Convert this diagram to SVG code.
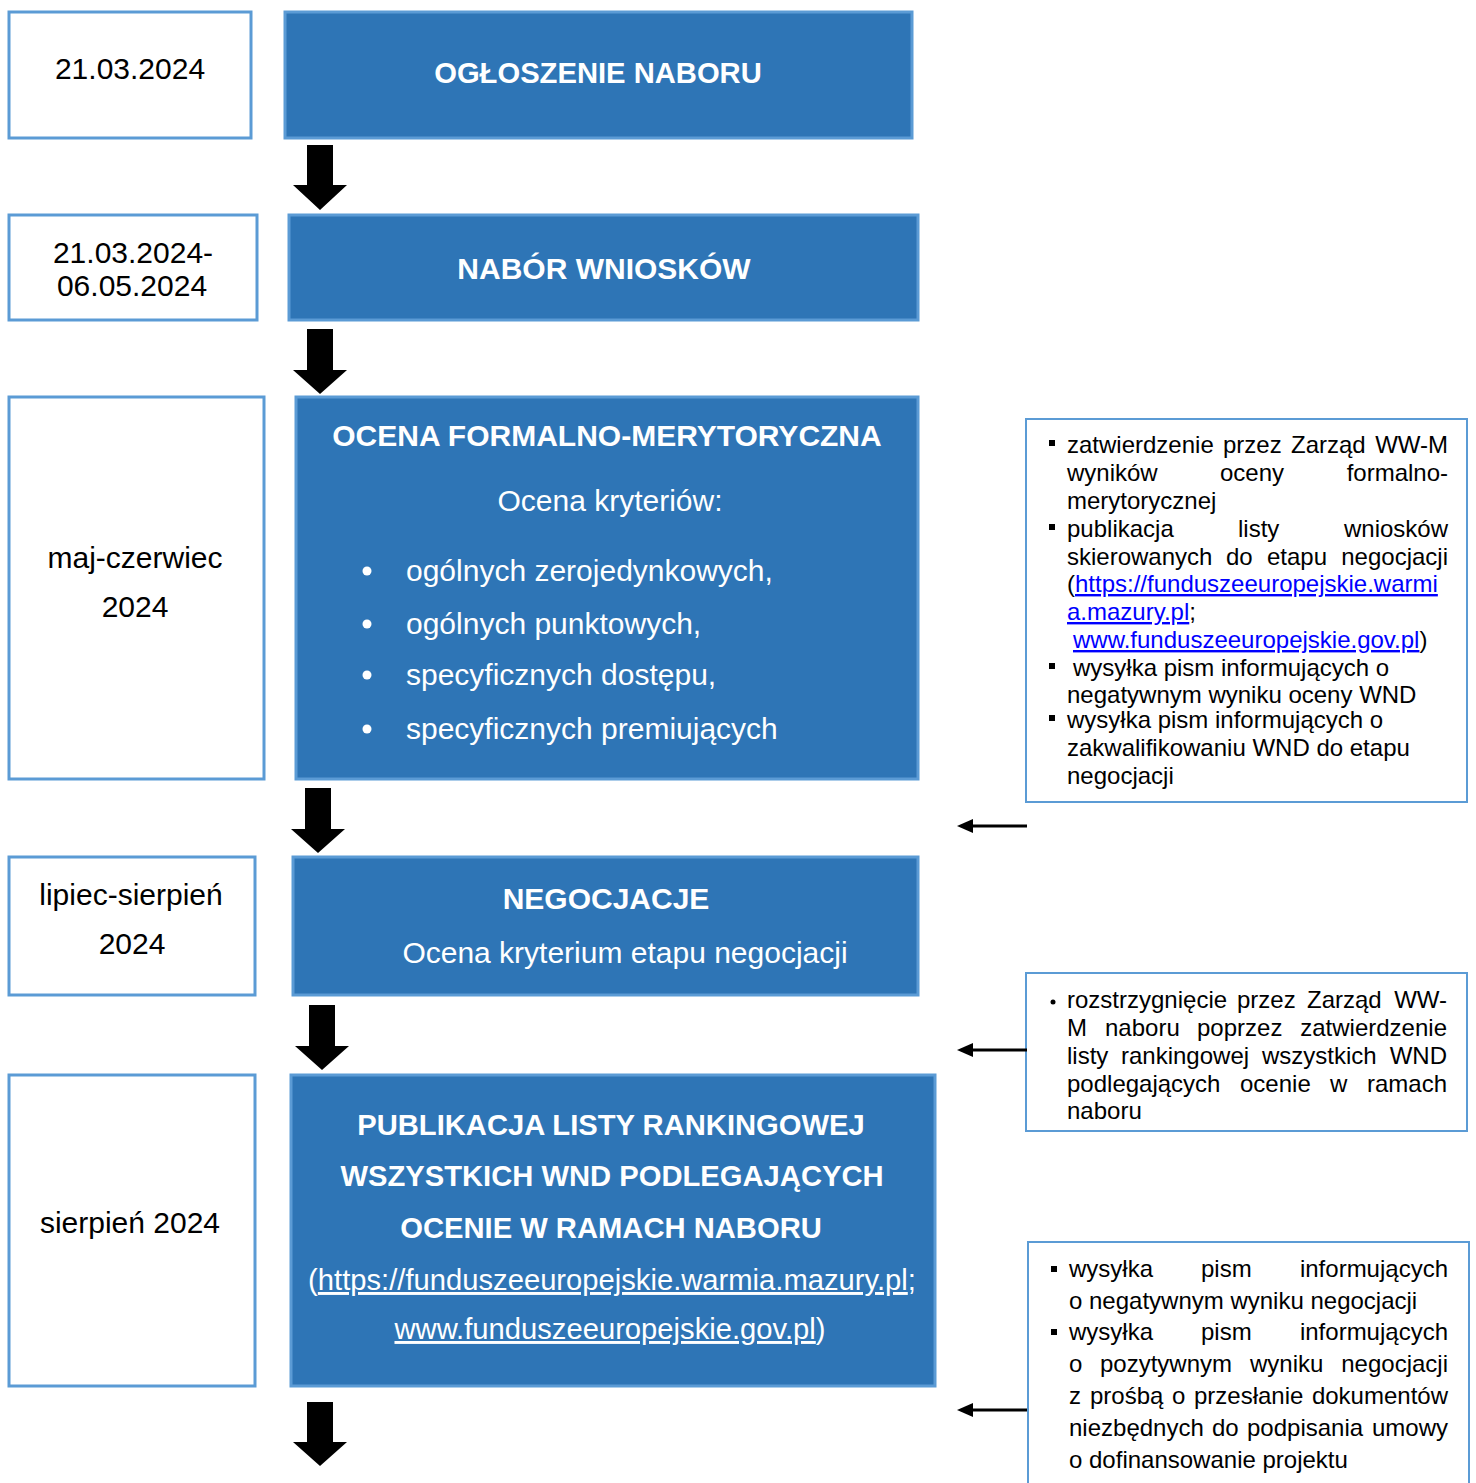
<svg xmlns="http://www.w3.org/2000/svg" width="1476" height="1483" viewBox="0 0 1476 1483">
<style>
.date{fill:#fff;stroke:#5B9BD5;stroke-width:3}
.main{fill:#2E75B6;stroke:#5B9BD5;stroke-width:3}
.note{fill:#fff;stroke:#5B9BD5;stroke-width:2}
.dt{font-family:"Liberation Sans",Arial,sans-serif;font-size:30px;fill:#000;text-anchor:middle}
.tb{font-family:"Liberation Sans",Arial,sans-serif;font-size:30px;font-weight:bold;fill:#fff;text-anchor:middle}
.tn{font-family:"Liberation Sans",Arial,sans-serif;font-size:30px;fill:#fff}
.s5{font-size:29.2px}
.tc{text-anchor:middle}
.nt{font-family:"Liberation Sans",Arial,sans-serif;font-size:24px;fill:#000}
.e{text-anchor:end}
.lk{fill:#0000FF;text-decoration:underline}
.ul{text-decoration:underline}
.arr{fill:#000}
.ln{stroke:#000;stroke-width:3}
</style>

<g id="date1"><rect class="date" x="9" y="12" width="242" height="126"/><text class="dt" x="130" y="79">21.03.2024</text></g>
<g id="step1"><rect class="main" x="285" y="12" width="627" height="126"/><text class="tb s5" x="598" y="83">OGŁOSZENIE NABORU</text></g>

<g id="date2"><rect class="date" x="9" y="215" width="248" height="105"/><text class="dt" x="133" y="263">21.03.2024-</text><text class="dt" x="132" y="296">06.05.2024</text></g>
<g id="step2"><rect class="main" x="289" y="215" width="629" height="105"/><text class="tb" x="604" y="279">NABÓR WNIOSKÓW</text></g>

<g id="date3"><rect class="date" x="9" y="397" width="255" height="382"/><text class="dt" x="135" y="568">maj-czerwiec</text><text class="dt" x="135" y="617">2024</text></g>
<g id="step3"><rect class="main" x="296" y="397" width="622" height="382"/>
<text class="tb" x="607" y="446">OCENA FORMALNO-MERYTORYCZNA</text>
<text class="tn tc" x="610" y="511">Ocena kryteriów:</text>
<circle cx="367" cy="571" r="4.5" fill="#fff"/><text class="tn" x="406" y="581">ogólnych zerojedynkowych,</text>
<circle cx="367" cy="624" r="4.5" fill="#fff"/><text class="tn" x="406" y="634">ogólnych punktowych,</text>
<circle cx="367" cy="675" r="4.5" fill="#fff"/><text class="tn" x="406" y="685">specyficznych dostępu,</text>
<circle cx="367" cy="729" r="4.5" fill="#fff"/><text class="tn" x="406" y="739">specyficznych premiujących</text>
</g>

<g id="date4"><rect class="date" x="9" y="857" width="246" height="138"/><text class="dt" x="131" y="905">lipiec-sierpień</text><text class="dt" x="132" y="954">2024</text></g>
<g id="step4"><rect class="main" x="293" y="857" width="625" height="138"/><text class="tb" x="606" y="909">NEGOCJACJE</text><text class="tn tc" x="625" y="963">Ocena kryterium etapu negocjacji</text></g>

<g id="date5"><rect class="date" x="9" y="1075" width="246" height="311"/><text class="dt" x="130" y="1233">sierpień 2024</text></g>
<g id="step5"><rect class="main" x="291" y="1075" width="644" height="311"/>
<text class="tb s5" x="611" y="1135">PUBLIKACJA LISTY RANKINGOWEJ</text>
<text class="tb s5" x="612" y="1186">WSZYSTKICH WND PODLEGAJĄCYCH</text>
<text class="tb s5" x="611" y="1238">OCENIE W RAMACH NABORU</text>
<text class="tn tc s5" x="612" y="1290">(<tspan class="ul">https://funduszeeuropejskie.warmia.mazury.pl</tspan>;</text>
<text class="tn tc s5" x="610" y="1339"><tspan class="ul">www.funduszeeuropejskie.gov.pl</tspan>)</text>
</g>

<g id="note1"><rect class="note" x="1026" y="419" width="441" height="383"/>
<rect x="1049" y="440" width="6" height="6" fill="#000"/>
<text class="nt" y="453"><tspan x="1067">zatwierdzenie</tspan><tspan x="1223">przez</tspan><tspan x="1291">Zarząd</tspan></text><text class="nt e" x="1448" y="453">WW-M</text>
<text class="nt" y="481"><tspan x="1067">wyników</tspan><tspan x="1220">oceny</tspan></text><text class="nt e" x="1448" y="481">formalno-</text>
<text class="nt" x="1067" y="509">merytorycznej</text>
<rect x="1049" y="524" width="6" height="6" fill="#000"/>
<text class="nt" y="537"><tspan x="1067">publikacja</tspan><tspan x="1238">listy</tspan></text><text class="nt e" x="1448" y="537">wniosków</text>
<text class="nt" y="565"><tspan x="1067">skierowanych</tspan><tspan x="1226">do</tspan><tspan x="1267">etapu</tspan></text><text class="nt e" x="1448" y="565">negocjacji</text>
<text class="nt" x="1067" y="592">(<tspan class="lk">https://funduszeeuropejskie.warmi</tspan></text>
<text class="nt" x="1067" y="620"><tspan class="lk">a.mazury.pl</tspan><tspan class="ul">;</tspan></text>
<text class="nt" x="1073" y="648"><tspan class="lk">www.funduszeeuropejskie.gov.pl</tspan>)</text>
<rect x="1049" y="663" width="6" height="6" fill="#000"/>
<text class="nt" x="1073" y="676">wysyłka pism informujących o</text>
<text class="nt" x="1067" y="703">negatywnym wyniku oceny WND</text>
<rect x="1049" y="715" width="6" height="6" fill="#000"/>
<text class="nt" x="1067" y="728">wysyłka pism informujących o</text>
<text class="nt" x="1067" y="756">zakwalifikowaniu WND do etapu</text>
<text class="nt" x="1067" y="784">negocjacji</text>
</g>

<g id="note2"><rect class="note" x="1026" y="973" width="441" height="158"/>
<circle cx="1053" cy="1002" r="2.5" fill="#000"/>
<text class="nt" y="1008"><tspan x="1067">rozstrzygnięcie</tspan><tspan x="1237">przez</tspan><tspan x="1307">Zarząd</tspan></text><text class="nt e" x="1447" y="1008">WW-</text>
<text class="nt" y="1036"><tspan x="1067">M</tspan><tspan x="1105">naboru</tspan><tspan x="1197">poprzez</tspan></text><text class="nt e" x="1447" y="1036">zatwierdzenie</text>
<text class="nt" y="1064"><tspan x="1067">listy</tspan><tspan x="1121">rankingowej</tspan><tspan x="1262">wszystkich</tspan></text><text class="nt e" x="1447" y="1064">WND</text>
<text class="nt" y="1092"><tspan x="1067">podlegających</tspan><tspan x="1240">ocenie</tspan><tspan x="1330">w</tspan></text><text class="nt e" x="1447" y="1092">ramach</text>
<text class="nt" x="1067" y="1119">naboru</text>
</g>

<g id="note3"><rect class="note" x="1028" y="1242" width="441" height="245"/>
<rect x="1051" y="1266" width="6" height="6" fill="#000"/>
<text class="nt" y="1277"><tspan x="1069">wysyłka</tspan><tspan x="1201">pism</tspan></text><text class="nt e" x="1448" y="1277">informujących</text>
<text class="nt" x="1069" y="1309">o negatywnym wyniku negocjacji</text>
<rect x="1051" y="1329" width="6" height="6" fill="#000"/>
<text class="nt" y="1340"><tspan x="1069">wysyłka</tspan><tspan x="1201">pism</tspan></text><text class="nt e" x="1448" y="1340">informujących</text>
<text class="nt" y="1372"><tspan x="1069">o</tspan><tspan x="1100">pozytywnym</tspan><tspan x="1250">wyniku</tspan></text><text class="nt e" x="1448" y="1372">negocjacji</text>
<text class="nt" y="1404"><tspan x="1069">z</tspan><tspan x="1090">prośbą</tspan><tspan x="1172">o</tspan><tspan x="1194">przesłanie</tspan></text><text class="nt e" x="1448" y="1404">dokumentów</text>
<text class="nt" y="1436"><tspan x="1069">niezbędnych</tspan><tspan x="1212">do</tspan><tspan x="1247">podpisania</tspan></text><text class="nt e" x="1448" y="1436">umowy</text>
<text class="nt" x="1069" y="1468">o dofinansowanie projektu</text>
</g>

<g id="connectors">
<path class="arr" d="M307,145 H333 V185 H347 L320,210 L293,185 H307 Z"/>
<path class="arr" d="M307,329 H333 V370 H347 L320,394 L293,370 H307 Z"/>
<path class="arr" d="M305,788 H331 V829 H345 L318,853 L291,829 H305 Z"/>
<path class="arr" d="M309,1005 H335 V1046 H349 L322,1070 L295,1046 H309 Z"/>
<path class="arr" d="M307,1402 H333 V1442 H347 L320,1466 L293,1442 H307 Z"/>
<line class="ln" x1="1027" y1="826" x2="970" y2="826"/><polygon class="arr" points="957,826 973,819 973,833"/>
<line class="ln" x1="1027" y1="1050" x2="970" y2="1050"/><polygon class="arr" points="957,1050 973,1043 973,1057"/>
<line class="ln" x1="1027" y1="1410" x2="970" y2="1410"/><polygon class="arr" points="957,1410 973,1403 973,1417"/>
</g>
</svg>
